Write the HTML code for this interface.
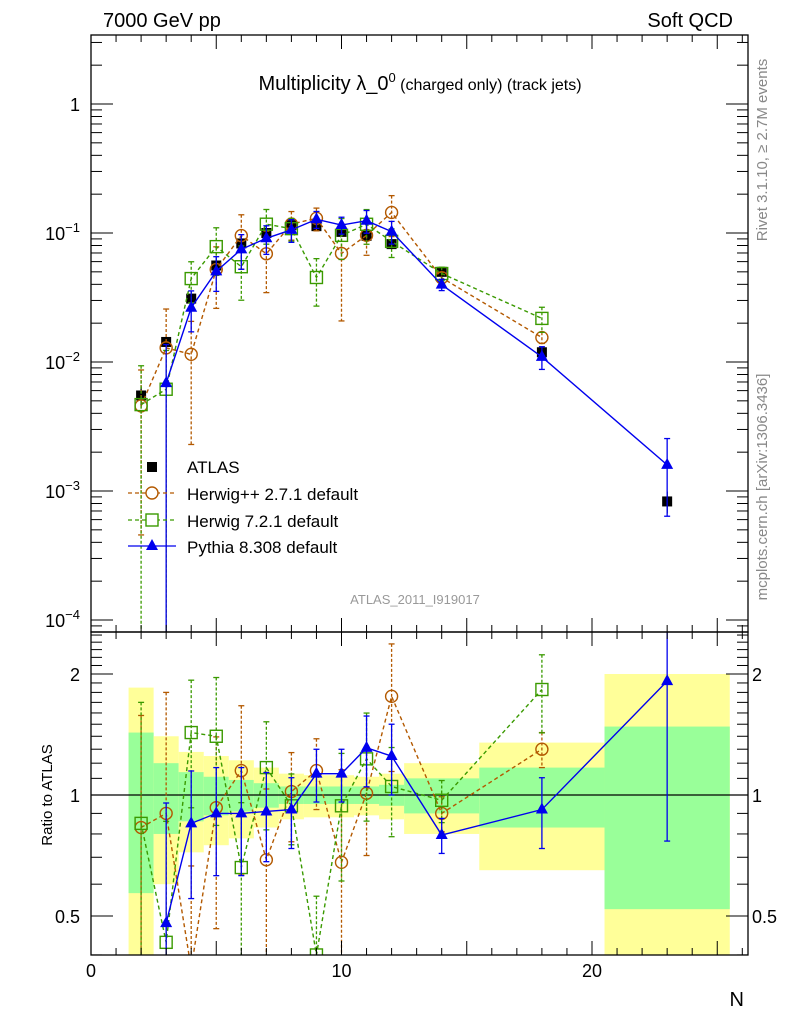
<!DOCTYPE html>
<html><head><meta charset="utf-8"><style>
html,body{margin:0;padding:0;background:#fff;width:786px;height:1024px;overflow:hidden;position:relative;}
svg#c{position:absolute;left:0;top:0;display:block;font-family:"Liberation Sans",sans-serif;overflow:hidden;}
</style></head><body>
<svg id="c" width="786" height="1024" viewBox="0 0 786 1024">
<text x="103" y="27" font-size="20">7000 GeV pp</text>
<text x="733" y="27" font-size="20" text-anchor="end">Soft QCD</text>
<text x="420" y="90" font-size="20" text-anchor="middle">Multiplicity λ_0<tspan dy="-8" font-size="13">0</tspan><tspan dy="8" font-size="16"> (charged only) (track jets)</tspan></text>
<text x="415" y="604" font-size="13" fill="#999" text-anchor="middle">ATLAS_2011_I919017</text>
<text transform="translate(52,795) rotate(-90)" font-size="15" text-anchor="middle">Ratio to ATLAS</text>
<text transform="translate(767,150) rotate(-90)" font-size="15" fill="#888" text-anchor="middle">Rivet 3.1.10, ≥ 2.7M events</text>
<text transform="translate(767,487) rotate(-90)" font-size="15" fill="#888" text-anchor="middle">mcplots.cern.ch [arXiv:1306.3436]</text>
</svg>
<script>
const categories=[2,3,4,5,6,7,8,9,10,11,12,14,18,23];
const binLo=[1.5,2.5,3.5,4.5,5.5,6.5,7.5,8.5,9.5,10.5,11.5,12.5,15.5,20.5];
const binHi=[2.5,3.5,4.5,5.5,6.5,7.5,8.5,9.5,10.5,11.5,12.5,15.5,20.5,25.5];
const atlas=[0.0055,0.0143,0.031,0.056,0.083,0.10,0.115,0.113,0.102,0.095,0.082,0.050,0.0119,0.00083];
const statErr=[0.43,0.20,0.14,0.11,0.09,0.07,0.05,0.05,0.05,0.05,0.06,0.10,0.17,0.48];
const totErr=[0.85,0.40,0.28,0.25,0.22,0.17,0.13,0.12,0.12,0.11,0.13,0.20,0.35,1.0];
const herwigppRatio=[0.83,0.90,0.37,0.93,1.15,0.69,1.02,1.15,0.68,1.01,1.76,0.90,1.30,null];
const herwigppErr=[0.9,1.0,0.8,0.5,0.45,0.5,0.25,0.2,0.7,0.3,0.35,0.1,0.1,null];
const herwig7Ratio=[0.85,0.43,1.43,1.40,0.66,1.17,0.94,0.40,0.94,1.23,1.05,0.97,1.83,null];
const herwig7Err=[1.0,1.0,0.35,0.4,0.45,0.3,0.2,0.4,0.35,0.3,0.25,0.12,0.22,null];
const pythiaRatio=[null,0.48,0.85,0.90,0.90,0.91,0.92,1.13,1.13,1.31,1.25,0.795,0.92,1.92];
const pythiaErr=[null,0.99,0.35,0.3,0.3,0.25,0.2,0.15,0.15,0.2,0.2,0.1,0.2,0.6];
const xTicks=[0,10,20];
const yTicks=[1,0.1,0.01,0.001,0.0001];
const yTickLabels=["1","10^-1","10^-2","10^-3","10^-4"];
const rTicks=[0.5,1,2];

const NS="http://www.w3.org/2000/svg";
const svg=document.getElementById('c');
const L=91,R=748,T=35,MB=632,RB=955;
const X=v=>L+(v)*25.05;
const Y=v=>104-129*Math.log10(v);
const RY=v=>795-121*Math.log2(v);
const cl=(v,a,b)=>Math.min(Math.max(v,a),b);
function el(tag,a,p){const e=document.createElementNS(NS,tag);for(const k in a)e.setAttribute(k,a[k]);(p||svg).appendChild(e);return e;}
function txt(s,a,p){const e=el('text',a,p);e.textContent=s;return e;}
const defs=el('defs',{});
function clip(id,y0,y1){const c=el('clipPath',{id},defs);el('rect',{x:L,y:y0,width:R-L,height:y1-y0},c);}
clip('cm',T,MB);clip('cr',MB,RB);

const gb=el('g',{'clip-path':'url(#cr)'});


categories.forEach((c,i)=>{
  const y1=cl(RY(1+totErr[i]),MB,RB),y2=cl(RY(Math.max(1-totErr[i],0.01)),MB,RB);
  const r=el('rect',{x:X(binLo[i]),y:y1,width:X(binHi[i])-X(binLo[i]),height:y2-y1,fill:'#ffff99'},gb);
  
  
  const g1=cl(RY(1+statErr[i]),MB,RB),g2=cl(RY(1-statErr[i]),MB,RB);
  const s=el('rect',{x:X(binLo[i]),y:g1,width:X(binHi[i])-X(binLo[i]),height:g2-g1,fill:'#99ff99'},gb);
  
  
});
el('line',{x1:L,x2:R,y1:RY(1),y2:RY(1),stroke:'#000','stroke-width':1.3});

const series=[
 {name:'herwigpp',ratio:herwigppRatio,err:herwigppErr,color:'#b35900',dash:'4,3',mk:'circle'},
 {name:'herwig7',ratio:herwig7Ratio,err:herwig7Err,color:'#3a9a00',dash:'4,3',mk:'square'},
 {name:'pythia',ratio:pythiaRatio,err:pythiaErr,color:'#0000ee',dash:null,mk:'tri'}
];
function marker(type,x,y,color,g){
  let m;
  if(type==='circle')m=el('circle',{cx:x,cy:y,r:6,fill:'none',stroke:color,'stroke-width':1.4},g);
  else if(type==='square')m=el('rect',{x:x-6,y:y-6,width:12,height:12,fill:'none',stroke:color,'stroke-width':1.4},g);
  else if(type==='tri')m=el('polygon',{points:`${x},${y-7} ${x-6},${y+4} ${x+6},${y+4}`,fill:color},g);
  else m=el('rect',{x:x-5,y:y-5,width:10,height:10,fill:color},g);
  return m;
}
function drawSeries(s,panel){
  const cp=panel==='main'?'url(#cm)':'url(#cr)';
  const y0=panel==='main'?T:MB,y1=panel==='main'?MB:RB;
  const g=el('g',{'clip-path':cp});
  
  
  const pts=[];
  categories.forEach((c,i)=>{
    if(s.ratio[i]==null)return;
    const v=panel==='main'?atlas[i]*s.ratio[i]:s.ratio[i];
    const F=panel==='main'?Y:RY;
    const x=X(c),y=F(v);
    const hi=F(v*(1+s.err[i])),lo=F(Math.max(v*(1-s.err[i]),v*0.005));
    const a={stroke:s.color,'stroke-width':1.3};if(s.dash)a['stroke-dasharray']='3,2';
    el('line',Object.assign({x1:x,x2:x,y1:cl(hi,y0,y1),y2:cl(lo,y0,y1)},a),g);
    if(hi>=y0&&hi<=y1)el('line',{x1:x-3,x2:x+3,y1:hi,y2:hi,stroke:s.color,'stroke-width':1.3},g);
    if(lo>=y0&&lo<=y1)el('line',{x1:x-3,x2:x+3,y1:lo,y2:lo,stroke:s.color,'stroke-width':1.3},g);
    pts.push([x,cl(y,y0-200,y1+40)]);
  });
  const pl={points:pts.map(p=>p.join(',')).join(' '),fill:'none',stroke:s.color,'stroke-width':1.4};
  if(s.dash)pl['stroke-dasharray']=s.dash;
  el('polyline',pl,g);
  pts.forEach(p=>{if(p[1]>y1+10)return;const m=marker(s.mk,p[0],p[1],s.color,g);
    
    });
}
const ga=el('g',{'clip-path':'url(#cm)'});


categories.forEach((c,i)=>{
  const x=X(c),y=Y(atlas[i]);
  const e=statErr[i]*0.4;
  el('line',{x1:x,x2:x,y1:Y(atlas[i]*(1+e)),y2:Y(atlas[i]*(1-e)),stroke:'#000','stroke-width':1.3},ga);
  const m=marker('sq',x,y,'#000',ga);
  
  
});
series.forEach(s=>{drawSeries(s,'main');drawSeries(s,'ratio');});

const f1=el('rect',{x:L,y:T,width:R-L,height:MB-T,fill:'none',stroke:'#000','stroke-width':1.3});


const f2=el('rect',{x:L,y:MB,width:R-L,height:RB-MB,fill:'none',stroke:'#000','stroke-width':1.3});



for(let v=0;v<=26;v++){
  const x=X(v);if(x>R)break;const big=v%5===0;const len=big?14:7;
  [[MB,-1],[T,1],[RB,-1],[MB,1]].forEach(([yy,d])=>el('line',{x1:x,x2:x,y1:yy,y2:yy+d*len,stroke:'#000','stroke-width':1}));
}
xTicks.forEach(v=>{const t=txt(String(v),{x:X(v),y:977,'font-size':18,'text-anchor':'middle'});
  
  });
const xl=txt('N',{x:744,y:1006,'font-size':20,'text-anchor':'end'});



for(let d=-5;d<=1;d++)for(let k=1;k<10;k++){
  const v=k*Math.pow(10,d),y=Y(v);if(y<T||y>MB)continue;const len=k===1?22:11;
  el('line',{x1:L,x2:L+len,y1:y,y2:y,stroke:'#000','stroke-width':1});
  el('line',{x1:R,x2:R-len,y1:y,y2:y,stroke:'#000','stroke-width':1});
}
yTicks.forEach((v,i)=>{
  const g=el('g',{});
  
  
  const lab=yTickLabels[i];
  if(lab==='1'){txt('1',{x:80,y:Y(v)+7,'font-size':18,'text-anchor':'end'},g);}
  else{const p=lab.split('^');
    const t=txt('',{x:80,y:Y(v)+7,'font-size':18,'text-anchor':'end'},g);
    const a=document.createElementNS(NS,'tspan');a.textContent=p[0];t.appendChild(a);
    const b=document.createElementNS(NS,'tspan');b.textContent=p[1].replace('-','\u2212');b.setAttribute('dy',-8);b.setAttribute('font-size',13);t.appendChild(b);}
});
for(let v=0.4;v<=2.55;v+=0.1){
  const y=RY(v);if(y<MB||y>RB)continue;
  const major=rTicks.some(t=>Math.abs(t-v)<1e-6);const len=major?22:11;
  el('line',{x1:L,x2:L+len,y1:y,y2:y,stroke:'#000','stroke-width':1});
  el('line',{x1:R,x2:R-len,y1:y,y2:y,stroke:'#000','stroke-width':1});
}
rTicks.forEach(v=>{
  const a=txt(String(v),{x:80,y:RY(v)+7,'font-size':18,'text-anchor':'end'});
  
  
  const b=txt(String(v),{x:752,y:RY(v)+7,'font-size':18});
  
  
});

const lg=el('g',{'font-size':17});


el('rect',{x:147,y:462,width:10,height:10,fill:'#000'},lg);
txt('ATLAS',{x:187,y:473},lg);
el('line',{x1:128,x2:176,y1:493,y2:493,stroke:'#b35900','stroke-width':1.3,'stroke-dasharray':'4,3'},lg);
el('circle',{cx:152,cy:493,r:6,fill:'#fff',stroke:'#b35900','stroke-width':1.4},lg);
txt('Herwig++ 2.7.1 default',{x:187,y:500},lg);
el('line',{x1:128,x2:176,y1:520,y2:520,stroke:'#3a9a00','stroke-width':1.3,'stroke-dasharray':'4,3'},lg);
el('rect',{x:146,y:514,width:12,height:12,fill:'#fff',stroke:'#3a9a00','stroke-width':1.4},lg);
txt('Herwig 7.2.1 default',{x:187,y:527},lg);
el('line',{x1:128,x2:176,y1:546,y2:546,stroke:'#0000ee','stroke-width':1.3},lg);
el('polygon',{points:'152,539 146,550 158,550',fill:'#0000ee'},lg);
txt('Pythia 8.308 default',{x:187,y:553},lg);
</script>
</body></html>
